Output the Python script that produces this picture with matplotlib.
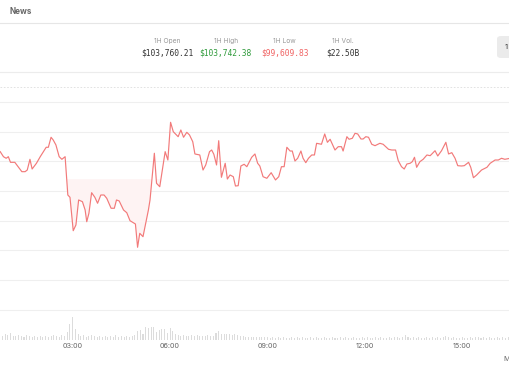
import matplotlib
matplotlib.use("Agg")
import matplotlib.pyplot as plt
import numpy as np
from matplotlib.lines import Line2D
from matplotlib.patches import FancyBboxPatch

# ---------------- data ----------------
# time in minutes after midnight, price in USD
times = [46, 52, 57, 61, 65, 73, 79, 86, 92, 96, 101, 105, 113, 120, 126, 131, 135, 140, 144, 149,
         155, 160, 166, 171, 175, 181, 186, 191, 198, 203, 206, 210, 215, 221, 226, 232, 238, 243,
         251, 257, 261, 266, 274, 280, 286, 294, 296, 300, 304, 310, 320, 323, 331, 335, 341, 351,
         356, 361, 366, 375, 380, 385, 391, 396, 402, 406, 415, 421, 426, 433, 437, 441, 446, 450,
         455, 462, 466, 471, 477, 481, 486, 491, 497, 502, 511, 517, 522, 526, 532, 539, 547, 555,
         561, 566, 571, 576, 582, 586, 591, 596, 602, 606, 611, 616, 622, 627, 631, 640, 646, 651,
         656, 665, 671, 677, 680, 687, 691, 697, 702, 707, 713, 717, 722, 727, 733, 739, 748, 754,
         764, 770, 777, 782, 788, 793, 798, 804, 808, 812, 816, 822, 828, 835, 841, 850, 855, 862,
         870, 875, 881, 887, 892, 899, 904, 912, 916, 921, 927, 936, 946, 952, 961, 967, 973, 979, 989]
prices = [104166, 104081, 104054, 104081, 103986, 103986, 103912, 103828, 103828, 103856, 104037,
          103873, 103970, 104081, 104166, 104240, 104240, 104409, 104363, 104279, 104081, 104037,
          104081, 103434, 103395, 102831, 102928, 103350, 103321, 103181, 102983, 103125, 103473,
          103395, 103294, 103434, 103434, 103378, 103210, 103210, 103350, 103333, 103181, 103135,
          103000, 102956, 102944, 102551, 102787, 102730, 103181, 103350, 104139, 103632, 103574,
          104166, 104025, 104662, 104503, 104419, 104532, 104409, 104493, 104448, 104334, 104127,
          104110, 103856, 103941, 104166, 104194, 104122, 103941, 104351, 103733, 103970, 103704,
          103772, 103743, 103586, 103591, 103924, 103953, 103912, 104071, 104127, 103970, 103924,
          103743, 103716, 103811, 103688, 103743, 103912, 103912, 104240, 104177, 104177, 104008,
          104054, 104177, 104054, 103980, 104054, 104110, 104110, 104307, 104291, 104465, 104324,
          104375, 104194, 104250, 104250, 104177, 104419, 104375, 104392, 104476, 104465, 104380,
          104380, 104419, 104409, 104291, 104267, 104307, 104291, 104206, 104194, 104194, 104014,
          103912, 103873, 103958, 103970, 103997, 104071, 103902, 103997, 104037, 104110, 104098,
          104182, 104093, 104182, 104324, 104127, 104149, 104054, 103929, 103924, 103929, 103986,
          103902, 103726, 103772, 103856, 103902, 103970, 104025, 104025, 104054, 104037, 104054]

baseline_price = 103700
shade_until = 360  # minutes

# 5-minute volume bars (BTC), starting 00:50
volume_start = 50
volumes = [80, 120,
           100, 140, 80, 80, 100, 80, 60, 100, 80, 60, 80, 60,
           80, 60, 80, 60, 80, 100, 80, 60, 100, 80, 160, 320,
           460, 220, 120, 80, 100, 60, 80, 100, 80, 60, 80, 60,
           80, 60, 80, 60, 100, 60, 80, 60, 80, 60, 80, 100,
           180, 200, 120, 260, 240, 260, 260, 160, 200, 220, 220, 140,
           240, 180, 120, 100, 80, 100, 80, 80, 100, 80, 100, 80,
           80, 80, 100, 80, 80, 140, 180, 120, 120, 120, 120, 100,
           120, 100, 80, 80, 60, 60, 60, 60, 60, 60, 60, 60,
           60, 40, 60, 40, 60, 40, 60, 40, 40, 60, 40, 60,
           40, 60, 40, 40, 60, 40, 60, 40, 40, 60, 40, 40,
           60, 40, 40, 60, 40, 60, 40, 40, 60, 40, 40, 60,
           40, 60, 40, 40, 60, 40, 60, 40, 40, 60, 40, 60,
           60, 40, 60, 100, 60, 40, 60, 40, 60, 40, 40, 60,
           40, 60, 40, 60, 40, 60, 80, 60, 40, 60, 40, 40,
           60, 40, 40, 60, 40, 60, 60, 40, 60, 40, 60, 40,
           40, 60, 40, 60, 40, 60]

tick_minutes = [180, 360, 540, 720, 900]
tick_labels = ["03:00", "06:00", "09:00", "12:00", "15:00"]
grid_prices = [101500, 102000, 102500, 103000, 103500, 104000, 104500, 105000]

stat_labels = ["1H Open", "1H High", "1H Low", "1H Vol."]
stat_values = ["$103,760.21", "$103,742.38", "$99,609.83", "$22.50B"]
stat_colors = ["#333333", "#2e9a3a", "#f06464", "#333333"]

# ---------------- figure ----------------
W, H = 510, 369
fig = plt.figure(figsize=(W / 100, H / 100), dpi=100)
fig.patch.set_facecolor("white")

def fy(py):
    return 1 - py / H

def fx(px):
    return px / W

x_lo, x_hi = 45.6, 988.6
p_lo, p_hi = 100985, 105275

# volume axes
vax = fig.add_axes([0, fy(340), 1, 40 / H])
vt = volume_start + 5 * np.arange(len(volumes))
vax.bar(vt, volumes, width=1.9, color="#dcdcdc", linewidth=0)
vax.set_xlim(x_lo, x_hi)
vax.set_ylim(0, 800)
vax.axis("off")

# price axes
ax = fig.add_axes([0, fy(340), 1, 254 / H])
ax.patch.set_alpha(0)
t = np.array(times)
p = np.array(prices)
for g in grid_prices:
    ax.axhline(g, color="#efefef", lw=0.8, zorder=0)
ax.fill_between(t, p, baseline_price, where=(p < baseline_price) & (t < shade_until),
                interpolate=True, color="#fef3f3", lw=0, zorder=1)
ax.plot(t, p, color="#f27a7a", lw=0.85, zorder=3, solid_joinstyle="round")
ax.set_xlim(x_lo, x_hi)
ax.set_ylim(p_lo, p_hi)
for s in ax.spines.values():
    s.set_visible(False)
ax.set_yticks([])
ax.set_xticks(tick_minutes)
ax.set_xticklabels(tick_labels, fontsize=5.2, color="#666666", family=["Inter", "DejaVu Sans"])
ax.tick_params(axis="x", length=0, pad=2.2)

# top dotted border of chart
fig.add_artist(Line2D([0, 1], [fy(86.5), fy(86.5)], color="#dddddd", lw=0.6,
                      linestyle=(0, (2, 2))))

# header
fig.text(fx(10), fy(11), "News", fontsize=5.8, color="#666666", weight="bold",
         family=["Inter", "DejaVu Sans"], va="center", ha="left")
fig.add_artist(Line2D([0, 1], [fy(23), fy(23)], color="#e6e6e6", lw=0.8))
fig.add_artist(Line2D([0, 1], [fy(72), fy(72)], color="#ececec", lw=0.8))

centers = [167, 225.8, 284.6, 343.3]
for cx, lab, val, col in zip(centers, stat_labels, stat_values, stat_colors):
    fig.text(fx(cx), fy(40.7), lab, fontsize=4.8, color="#999999", ha="center", va="center",
             family=["Inter", "DejaVu Sans"])
    fig.text(fx(cx), fy(53.3), val, fontsize=5.7, color=col, ha="center", va="center",
             family=["DejaVu Sans Mono"])

# button at right edge
btn = FancyBboxPatch((fx(497), fy(58)), fx(20), 22 / H,
                     boxstyle="round,pad=0,rounding_size=0.008",
                     transform=fig.transFigure, facecolor="#ebebeb", edgecolor="none")
fig.add_artist(btn)
fig.text(fx(505), fy(47), "1", fontsize=5.5, color="#333333", ha="left", va="center",
         family=["Inter", "DejaVu Sans"])

fig.text(fx(503), fy(359), "M", fontsize=5.2, color="#666666", ha="left", va="center",
         family=["Inter", "DejaVu Sans"])

fig.savefig("out.png", dpi=100)
